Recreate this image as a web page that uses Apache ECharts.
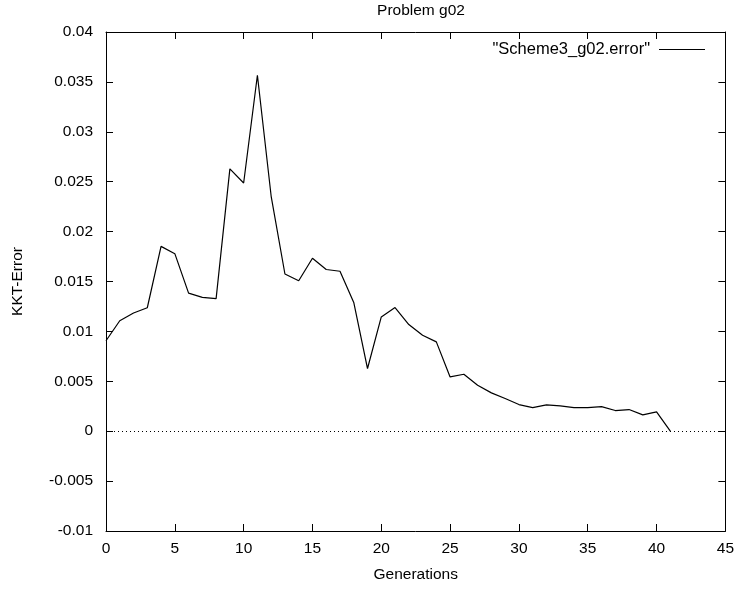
<!DOCTYPE html>
<html>
<head>
<meta charset="utf-8">
<script src="https://cdn.jsdelivr.net/npm/echarts@6/dist/echarts.min.js"></script>
<style>
html,body{margin:0;padding:0;background:#fff;}
#chart{width:737px;height:590px;}
</style>
</head>
<body>
<div id="chart"></div>
<script>
// Generation index and KKT error per generation
const generations = [0,1,2,3,4,5,6,7,8,9,10,11,12,13,14,15,16,17,18,19,20,21,22,23,24,25,26,27,28,29,30,31,32,33,34,35,36,37,38,39,40,41];
const kktError = [0.00906,0.01107,0.01184,0.01237,0.01852,0.01779,0.01384,0.01341,0.01328,0.02628,0.02487,0.03567,0.02354,0.01575,0.01508,0.01733,0.0162,0.01603,0.0129,0.00628,0.01145,0.01239,0.01069,0.00962,0.00895,0.00544,0.00571,0.00461,0.00384,0.00327,0.00267,0.00237,0.00264,0.00254,0.00237,0.00237,0.00247,0.00207,0.00217,0.00164,0.00194,0];
const seriesName = '"Scheme3_g02.error"';

const FONT = 'Liberation Sans, Arial, sans-serif';
const FS = 15.5;
const tickLabel = {color:'#000', fontFamily:FONT, fontSize:FS};
const frameLine = {show:true, onZero:false, lineStyle:{color:'#000', width:1}};
const inTicks = {show:true, inside:true, length:7, lineStyle:{color:'#000', width:1}};

const chart = echarts.init(document.getElementById('chart'), null, {renderer:'canvas'});
chart.setOption({
  animation:false,
  backgroundColor:'#fff',
  title:{
    text:'Problem g02', left:416, textAlign:'center', top:-2,
    textStyle:{fontFamily:FONT, fontSize:FS, fontWeight:'normal', color:'#000'}
  },
  legend:{
    right:27, top:36, align:'right', itemWidth:46, itemHeight:1, itemGap:8,
    textStyle:{fontFamily:FONT, fontSize:16.5, color:'#000', padding:[0,4,0,0]},
    data:[{name:seriesName, icon:'path://M0,0 H46 V1 H0 Z'}]
  },
  grid:{left:106, right:10, top:32, bottom:59, containLabel:false},
  xAxis:[{
    type:'value', min:0, max:45, interval:5,
    name:'Generations', nameLocation:'middle', nameGap:36,
    nameTextStyle:{fontFamily:FONT, fontSize:FS, color:'#000'},
    axisLine:frameLine, axisTick:inTicks,
    axisLabel:Object.assign({margin:10}, tickLabel),
    splitLine:{show:false}
  },{
    type:'value', position:'top', min:0, max:45, interval:5,
    axisLine:frameLine, axisTick:inTicks, axisLabel:{show:false}, splitLine:{show:false}
  }],
  yAxis:[{
    type:'value', min:-0.01, max:0.04, interval:0.005,
    name:'KKT-Error', nameLocation:'middle', nameGap:80,
    nameTextStyle:{fontFamily:FONT, fontSize:FS, color:'#000'},
    axisLine:frameLine, axisTick:inTicks,
    axisLabel:Object.assign({margin:13, formatter:v=>String(parseFloat(v.toFixed(4)))}, tickLabel),
    splitLine:{show:false}
  },{
    type:'value', position:'right', min:-0.01, max:0.04, interval:0.005,
    axisLine:frameLine, axisTick:inTicks, axisLabel:{show:false}, splitLine:{show:false}
  }],
  series:[{
    name:seriesName, type:'line',
    data:generations.map((g,i)=>[g,kktError[i]]),
    showSymbol:false, symbol:'none',
    lineStyle:{color:'#000', width:1.2},
    itemStyle:{color:'#000'},
    markLine:{
      silent:true, symbol:'none', label:{show:false},
      lineStyle:{color:'#000', type:[1,3], width:1},
      data:[{yAxis:0}]
    }
  }]
});
</script>
</body>
</html>
